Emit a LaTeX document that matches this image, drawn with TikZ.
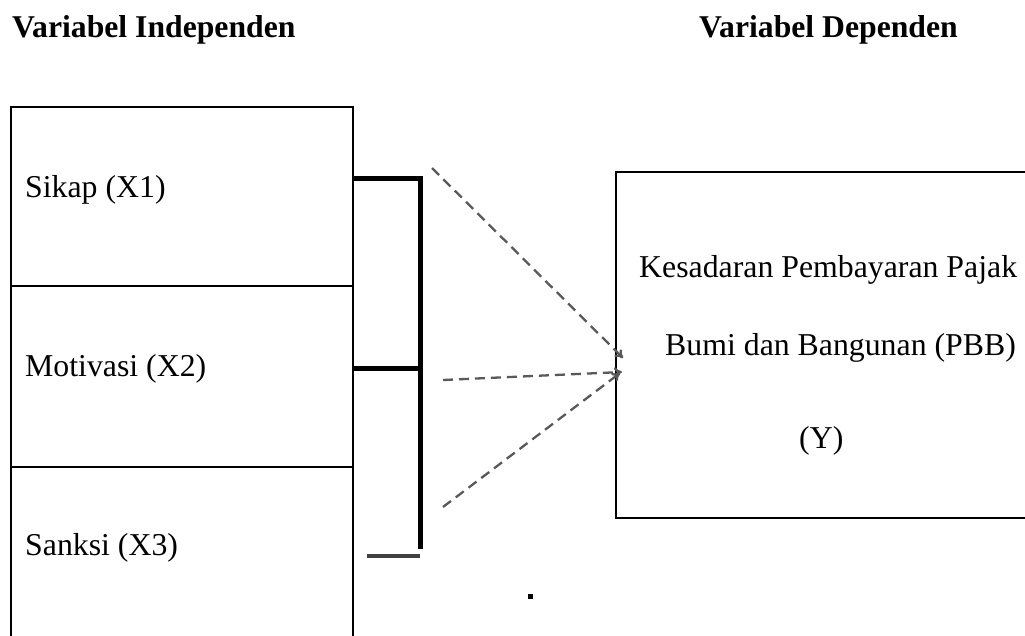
\documentclass[tikz,border=0pt]{standalone}
\usepackage{fontspec}
\setmainfont{Liberation Serif}
\usetikzlibrary{arrows.meta}
\tikzset{
  boxline/.style={line width=2pt, black},
  thickline/.style={line width=5pt, black},
  dashline/.style={line width=2.3pt, black!65, dash pattern=on 10pt off 6pt, -{To[length=8pt,width=10pt]}},
  lbl/.style={anchor=base west, inner sep=0pt, font=\fontsize{31.8}{36}\selectfont},
  head/.style={anchor=base west, inner sep=0pt, font=\fontsize{31.7}{36}\selectfont\bfseries},
}
\begin{document}
\begin{tikzpicture}[x=1pt,y=-1pt]
\useasboundingbox (0,0) rectangle (1025,635);
% headings
\node[head] (hi) at (12,37) {Variabel Independen};
\node[head] (hd) at (699,37) {Variabel Dependen};
% left column boxes
\draw[boxline] (11,640) -- (11,107) -- (353,107) -- (353,640);
\draw[boxline] (11,286) -- (353,286);
\draw[boxline] (11,467) -- (353,467);
\node[lbl] (x1) at (25,197) {Sikap (X1)};
\node[lbl] (x2) at (25,376) {Motivasi (X2)};
\node[lbl] (x3) at (25,555) {Sanksi (X3)};
% bracket
\coordinate (b1) at (353,178);
\coordinate (b2) at (353,368);
\coordinate (bt) at (420,178);
\coordinate (bm) at (420,368);
\coordinate (bb) at (420,549);
\draw[thickline] (b1) -- (bt) -- (bb);
\draw[thickline] (b2) -- (bm);
\coordinate (s1) at (367,556);
\coordinate (s2) at (420,556);
\draw[line width=3.5pt, black!75] (s1) -- (s2);
% right box
\draw[boxline] (1030,172) -- (616,172) -- (616,518) -- (1030,518);
\node[lbl] (y1) at (639,277) {Kesadaran Pembayaran Pajak};
\node[lbl] (y2) at (665,355) {Bumi dan Bangunan (PBB)};
\node[lbl] (y3) at (799,448) {(Y)};
% arrows
\coordinate (a1) at (432,168);
\coordinate (a2) at (443,380);
\coordinate (a3) at (443,507);
\coordinate (t1) at (623,358);
\coordinate (t2) at (622,372);
\coordinate (t3) at (620,373);
\draw[dashline] (a1) -- (t1);
\draw[dashline] (a2) -- (t2);
\draw[dashline] (a3) -- (t3);
% dot
\fill (527.5,593.5) rectangle (532.5,598.5);
\end{tikzpicture}
\end{document}
